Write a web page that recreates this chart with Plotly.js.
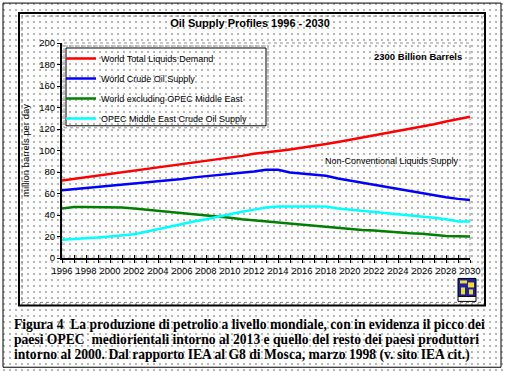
<!DOCTYPE html>
<html>
<head>
<meta charset="utf-8">
<script src="https://cdn.plot.ly/plotly-3.0.1.min.js"></script>
<style>
  html, body { margin: 0; padding: 0; background: #ffffff; }
  body {
    background-image: radial-gradient(circle, #b4b4b4 0.7px, rgba(255,255,255,0) 0.9px);
    background-size: 6px 6px;
    background-position: 1px 1px;
  }
  #chart { width: 505px; height: 371px; }
</style>
</head>
<body>
<div id="chart"></div>
<script>
const years = [1996,1997,1998,1999,2000,2001,2002,2003,2004,2005,2006,2007,2008,2009,2010,2011,2012,2013,2014,2015,2016,2017,2018,2019,2020,2021,2022,2023,2024,2025,2026,2027,2028,2029,2030];
const totalDemand = [72,73.5,75,76.5,78,79.5,81,82.5,84,85.5,87,89,90.5,92,93.5,95,97,98,99.5,101,102.5,104,106,108,110,112,114,116,118,120,122,124.5,127,129,131.5];
const crudeSupply = [63,64,65,66,67,68,69,70,71,72,73.5,75,76,77,78.5,79.5,80.5,82,82,79.5,78.5,78,76.5,74,72,70,68,66,64,62.5,60.5,58,56.5,55,54];
const exOpecME = [46,47.5,47.5,47.5,47.5,47,46,45,44,43,42,41,39.5,38.5,37.5,36,35,34,33,31.5,30.5,29.5,28.5,28,27,26,25.5,24.5,24,23,22.5,21.5,20.5,20.2,20];
const opecME = [17,17.5,18.5,19,20,21,22,24.5,27,29,31.5,34,36,38.5,41,43,45,47,48,48,48,48,48,46,45,44,43,42,41,40,39,37.5,36,34,34];

const seriesNames = ["World Total Liquids Demand","World Crude Oil Supply","World excluding OPEC Middle East","OPEC Middle East Crude Oil Supply"];
const seriesColors = ["#ff0000","#0000ff","#008000","#00ffff"];
const seriesValues = [totalDemand, crudeSupply, exOpecME, opecME];

const xTickVals = [1996,1998,2000,2002,2004,2006,2008,2010,2012,2014,2016,2018,2020,2022,2024,2026,2028,2030];
const yTickVals = [0,20,40,60,80,100,120,140,160,180,200];

const chartTitle = "Oil Supply Profiles 1996 - 2030";
const yTitle = "million barrels per day";
const noteReserves = "2300 Billion Barrels";
const noteNonConv = "Non-Conventional Liquids Supply";
const captionLines = [
  "Figura 4  La produzione di petrolio a livello mondiale, con in evidenza il picco dei",
  "paesi OPEC  mediorientali intorno al 2013 e quello del resto dei paesi produttori",
  "intorno al 2000. Dal rapporto IEA al G8 di Mosca, marzo 1998 (v. sito IEA cit.)"
];

// pixel -> paper helpers (plot area: x 62..470, y 43..258.5)
const L = 62, R = 470, T = 43, B = 258.5;
const px = v => (v - L) / (R - L);
const py = v => (B - v) / (B - T);

const traces = seriesNames.map((n, i) => ({
  type: "scatter", mode: "lines", name: n, x: years, y: seriesValues[i],
  line: { color: seriesColors[i], width: 2.5 }, legendgroup: "g" + i,
  xaxis: "x", yaxis: "y"
}));
// helper trace for the inner half of crossing x ticks
traces.push({ type: "scatter", mode: "lines", x: [years[0], years[years.length-1]], y: [0, 0],
  xaxis: "x2", yaxis: "y", showlegend: false, hoverinfo: "skip",
  line: { color: "rgba(0,0,0,0)", width: 0 } });

const font = "Arial, 'Liberation Sans', sans-serif";

const shapes = [
  { type: "rect", xref: "paper", yref: "paper", x0: px(3), x1: px(501), y0: py(368), y1: py(3), line: { color: "#000", width: 1 }, layer: "below" },
  { type: "rect", xref: "paper", yref: "paper", x0: px(19), x1: px(485), y0: py(306), y1: py(13), line: { color: "#000", width: 2 }, layer: "below" },
  { type: "rect", xref: "paper", yref: "paper", x0: px(22), x1: px(482), y0: py(303), y1: py(16), line: { color: "#808080", width: 1, dash: "dot" }, layer: "below" },
  { type: "rect", xref: "paper", yref: "paper", x0: 0, x1: 1, y0: 0, y1: 1, line: { color: "#909090", width: 1, dash: "dot" }, layer: "below" },
  { type: "rect", xref: "paper", yref: "paper", x0: px(64), x1: px(268), y0: py(128), y1: py(46), line: { color: "#909090", width: 1, dash: "dot" }, fillcolor: "rgba(255,255,255,0)" },
  { type: "rect", xref: "paper", yref: "paper", x0: px(66), x1: px(266), y0: py(126), y1: py(48), line: { color: "#000", width: 1 } },
  { type: "rect", xref: "paper", yref: "paper", x0: px(458), x1: px(476), y0: py(297), y1: py(279), line: { color: "#000", width: 1 }, fillcolor: "#1f1fa8" },
  { type: "rect", xref: "paper", yref: "paper", x0: px(458), x1: px(476), y0: py(302), y1: py(297), line: { color: "#000", width: 1 }, fillcolor: "#ffffff" },
  { type: "rect", xref: "paper", yref: "paper", x0: px(460), x1: px(467), y0: py(284), y1: py(281), line: { width: 0 }, fillcolor: "#f0e020" },
  { type: "rect", xref: "paper", yref: "paper", x0: px(468), x1: px(474), y0: py(288), y1: py(283), line: { width: 0 }, fillcolor: "#f0e020" },
  { type: "rect", xref: "paper", yref: "paper", x0: px(461), x1: px(465), y0: py(295), y1: py(288), line: { width: 0 }, fillcolor: "#f0e020" },
  { type: "rect", xref: "paper", yref: "paper", x0: px(469), x1: px(473), y0: py(295), y1: py(290), line: { width: 0 }, fillcolor: "#f0e020" }
];

const annotations = [
  { xref: "paper", yref: "paper", x: px(418), y: py(57), text: "<b>" + noteReserves + "</b>", showarrow: false,
    font: { family: "'Liberation Sans Narrow', 'Arial Narrow', Arial", size: 9.5, color: "#000" }, xanchor: "center", yanchor: "middle" },
  { xref: "paper", yref: "paper", x: px(392), y: py(161), text: noteNonConv, showarrow: false,
    font: { family: font, size: 9, color: "#000" }, xanchor: "center", yanchor: "middle" }
];
captionLines.forEach((t, i) => annotations.push({
  xref: "paper", yref: "paper", x: px(12), y: py(325 + i * 15.5), text: "<b>" + t + "</b>", showarrow: false,
  font: { family: "'Liberation Serif', 'Times New Roman', serif", size: 13.6, color: "#000" }, xanchor: "left", yanchor: "middle"
}));

const layout = {
  width: 505, height: 371,
  margin: { l: L, r: 505 - R, t: T, b: 371 - B },
  paper_bgcolor: "rgba(0,0,0,0)", plot_bgcolor: "rgba(0,0,0,0)",
  title: { text: "<b>" + chartTitle + "</b>", x: 250 / 505, xref: "container", xanchor: "center",
           y: 1 - 23 / 371, yref: "container", yanchor: "middle", font: { family: font, size: 11, color: "#000" } },
  xaxis: { range: [1996, 2030], tickvals: xTickVals, ticktext: xTickVals.map(String), showgrid: false, zeroline: false,
           showline: true, linecolor: "#000", linewidth: 2, ticks: "outside", ticklen: 3, tickwidth: 1, tickcolor: "#000",
           minor: { dtick: 1, tick0: 1996, ticks: "outside", ticklen: 3, tickwidth: 1, tickcolor: "#000", showgrid: false },
           tickfont: { family: font, size: 9.5, color: "#000" } },
  xaxis2: { overlaying: "x", matches: "x", range: [1996, 2030], dtick: 1, tick0: 1996, ticks: "inside", ticklen: 3, tickcolor: "#000",
            showticklabels: false, showgrid: false, zeroline: false, showline: false, side: "bottom" },
  yaxis: { range: [0, 200], tickvals: yTickVals, showgrid: false, zeroline: false, showline: true, linecolor: "#000", linewidth: 2,
           ticks: "outside", ticklen: 3, tickcolor: "#000", tickfont: { family: font, size: 9.5, color: "#000" },
           title: { text: yTitle, font: { family: font, size: 9.5, color: "#000" }, standoff: 8 } },
  showlegend: true,
  legend: { x: px(61), y: py(44), xanchor: "left", yanchor: "top", bgcolor: "rgba(0,0,0,0)", borderwidth: 0,
            font: { family: font, size: 9, color: "#000" }, tracegroupgap: 1, traceorder: "grouped", itemwidth: 30 },
  shapes: shapes, annotations: annotations
};

Plotly.newPlot("chart", traces, layout, { displayModeBar: false, staticPlot: true });
</script>
</body>
</html>
